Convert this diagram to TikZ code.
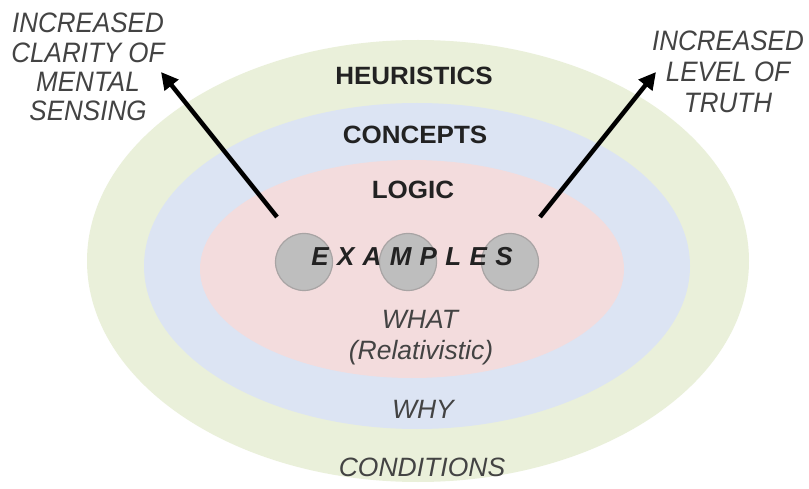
\documentclass[tikz,border=0pt]{standalone}
\usepackage{fontspec}
\setmainfont{Liberation Sans}
\usetikzlibrary{arrows.meta}
\definecolor{ringgreen}{HTML}{EAF0DA}
\definecolor{ringblue}{HTML}{DCE4F3}
\definecolor{ringpink}{HTML}{F3DCDD}
\definecolor{discfill}{HTML}{BEBEBE}
\definecolor{discline}{HTML}{A8A4A4}
\definecolor{txt}{HTML}{222222}
\begin{document}
\begin{tikzpicture}[x=1pt,y=-1pt,
  layer/.style={font=\fontsize{25}{25}\selectfont\bfseries, text=txt, xscale=1.04},
  soft/.style={font=\fontsize{26.5}{26.5}\selectfont\itshape, text=txt!85},
  side/.style={font=\fontsize{26}{27}\selectfont\itshape, text=txt!85, align=center, yscale=1.08},
  disc/.style={circle, fill=discfill, draw=discline, line width=1.2pt, minimum size=57pt, inner sep=0pt},
  bigarrow/.style={-{Triangle[length=17pt,width=17pt]}, line width=4.5pt, black}]
\useasboundingbox (0,0) rectangle (809,489);
\fill[white] (0,0) rectangle (809,489);
% nested rings
\fill[ringgreen] (418,261) ellipse [x radius=331, y radius=221];
\fill[ringblue] (417,266) ellipse [x radius=273, y radius=163];
\fill[ringpink] (412,269) ellipse [x radius=212, y radius=109];
% discs behind the word
\node[disc] (d1) at (304,262) {};
\node[disc] (d2) at (408,262) {};
\node[disc] (d3) at (510,262) {};
% ring labels
\node[layer] (heur) at (414,76) {HEURISTICS};
\node[layer] (conc) at (415,135) {CONCEPTS};
\node[layer] (logic) at (413,190) {LOGIC};
\node[font=\fontsize{26}{26}\selectfont\bfseries\itshape\addfontfeature{LetterSpace=32}, text=txt] (ex) at (412,257) {EXAMPLES};
\node[soft] (what) at (420,319) {WHAT};
\node[soft] (rel) at (421,353) {(Relativistic)};
\node[soft] (why) at (423,409) {WHY};
\node[soft] (cond) at (422,467) {CONDITIONS};
% side labels
\node[side] (clar) at (88,67) {INCREASED\\CLARITY OF\\MENTAL\\SENSING};
\node[side, font=\fontsize{26}{29}\selectfont\itshape] (truth) at (728,72) {INCREASED\\LEVEL OF\\TRUTH};
\coordinate (ls) at (277,217);
\coordinate (le) at (161,72);
\coordinate (rs) at (540,217);
\coordinate (re) at (656,72);
\draw[bigarrow] (ls) -- (le);
\draw[bigarrow] (rs) -- (re);
\end{tikzpicture}
\end{document}
